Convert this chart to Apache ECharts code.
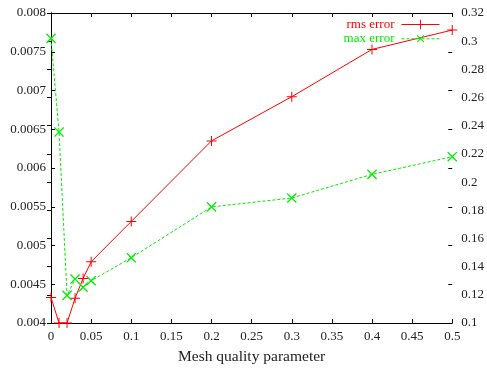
<!DOCTYPE html>
<html><head><meta charset="utf-8">
<script src="https://cdn.jsdelivr.net/npm/echarts@6/dist/echarts.min.js"></script>
<style>html,body{margin:0;padding:0;background:#fff}#c{width:487px;height:370px}</style>
</head><body><div id="c"></div>
<script>
const xValues = [0, 0.01, 0.02, 0.03, 0.04, 0.05, 0.1, 0.2, 0.3, 0.4, 0.5];
const rmsError = [0.00433, 0.0040, 0.0040, 0.00432, 0.004575, 0.00479, 0.00531, 0.00635, 0.00692, 0.00753, 0.00778];
const maxError = [0.302, 0.2355, 0.1196, 0.1312, 0.1254, 0.130, 0.1463, 0.1824, 0.1887, 0.2055, 0.218];
const seriesNames = ['rms error', 'max error'];
const xTitle = 'Mesh quality parameter';

const FONT = 'Liberation Serif';
const plus = 'path://M5.4,0H6.6V5.4H12V6.6H6.6V12H5.4V6.6H0V5.4H5.4Z';
const txt = {fontFamily: FONT, fontSize: 13, color: '#222'};
const axLine = {show: true, lineStyle: {color: '#000', width: 1}};
const tick = {show: true, inside: true, length: 4, lineStyle: {color: '#000'}};

const chart = echarts.init(document.getElementById('c'), null, {renderer: 'canvas'});
chart.setOption({
  animation: false,
  backgroundColor: '#fff',
  grid: {left: 51, right: 32, top: 13, bottom: 42, containLabel: false},
  legend: {
    orient: 'vertical', right: 47, top: 18, align: 'right', padding: 0,
    itemWidth: 38, itemHeight: 12, itemGap: 1,
    lineStyle: {width: 1},
    textStyle: {fontFamily: FONT, fontSize: 13, padding: [0, 2, 0, 0]},
    data: [
      {name: seriesNames[0], textStyle: {color: '#ff0000'}},
      {name: seriesNames[1], textStyle: {color: '#00ee00'}}
    ]
  },
  xAxis: [{
    type: 'value', min: 0, max: 0.5, interval: 0.05,
    axisLine: axLine, axisTick: tick, splitLine: {show: false},
    axisLabel: Object.assign({margin: 7}, txt),
    name: xTitle, nameLocation: 'middle', nameGap: 26,
    nameTextStyle: {fontFamily: FONT, fontSize: 15.5, color: '#222'}
  }, {
    type: 'value', position: 'top', min: 0, max: 0.5, interval: 0.05,
    axisLine: axLine, axisTick: tick, axisLabel: {show: false}, splitLine: {show: false}
  }],
  yAxis: [{
    type: 'value', position: 'left', min: 0.004, max: 0.008, interval: 0.0005,
    axisLine: axLine, axisTick: tick, splitLine: {show: false},
    axisLabel: Object.assign({margin: 5}, txt)
  }, {
    type: 'value', position: 'right', min: 0.1, max: 0.32, interval: 0.02,
    axisLine: axLine, axisTick: tick, splitLine: {show: false},
    axisLabel: Object.assign({margin: 9}, txt)
  }, {
    type: 'value', position: 'right', min: 0.004, max: 0.008, interval: 0.0005,
    axisLine: {show: false}, axisTick: tick, splitLine: {show: false}, axisLabel: {show: false}
  }],
  series: [{
    name: seriesNames[0], type: 'line', xAxisIndex: 0, yAxisIndex: 0,
    data: xValues.map((x, i) => [x, rmsError[i]]),
    symbol: plus, symbolSize: 10, showAllSymbol: true, clip: true,
    lineStyle: {color: '#ff0000', width: 1},
    itemStyle: {color: '#ff0000'}
  }, {
    name: seriesNames[1], type: 'line', xAxisIndex: 0, yAxisIndex: 1,
    data: xValues.map((x, i) => [x, maxError[i]]),
    symbol: plus, symbolSize: 13, symbolRotate: 45, showAllSymbol: true, clip: true,
    lineStyle: {color: '#00ee00', width: 1, type: [3, 2]},
    itemStyle: {color: '#00ee00'}
  }]
});
</script></body></html>
